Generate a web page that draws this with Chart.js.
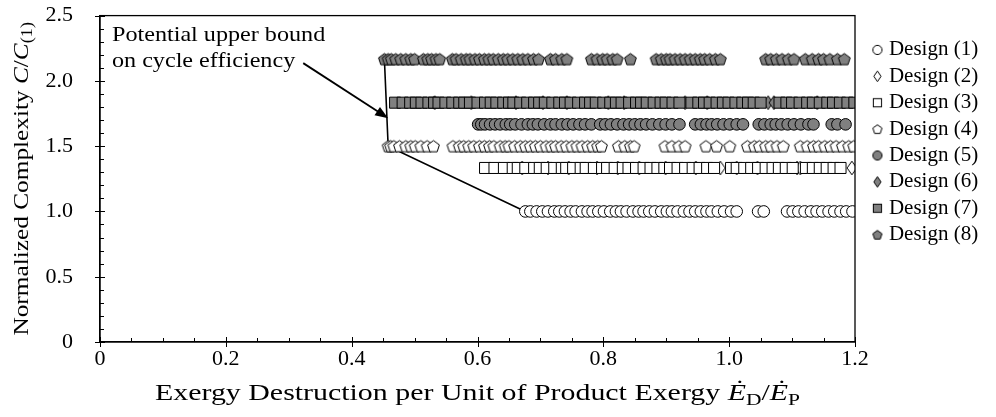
<!DOCTYPE html>
<html><head><meta charset="utf-8">
<script src="https://cdn.jsdelivr.net/npm/chart.js@4.4.1/dist/chart.umd.min.js"></script>
<style>html,body{margin:0;padding:0;background:#fff;overflow:hidden}</style>
</head><body>
<canvas id="c" width="996" height="417"></canvas>
<script>
// ---------------- data ----------------
const designNames = ['Design (1)','Design (2)','Design (3)','Design (4)','Design (5)','Design (6)','Design (7)','Design (8)'];
const complexity = [1.0, 1.333, 1.333, 1.5, 1.667, 1.833, 1.833, 2.167];

const design1X = [0.676,0.684,0.694,0.703,0.712,0.722,0.730,0.739,0.748,0.756,0.766,0.775,0.783,0.792,0.801,0.811,0.820,0.828,0.837,0.847,0.856,0.864,0.873,0.882,0.892,0.901,0.909,0.918,0.928,0.937,0.946,0.955,0.964,0.972,0.982,0.992,1.003,1.012,1.046,1.055,1.092,1.101,1.110,1.120,1.130,1.139,1.148,1.158,1.167,1.177,1.186,1.196];
const design2X = [0.671,0.712,0.745,0.790,0.823,0.857,0.899,0.947,0.986,1.012,1.045,1.108,1.113,1.195];
const design3X = [0.612,0.627,0.642,0.656,0.664,0.676,0.690,0.699,0.710,0.722,0.734,0.741,0.752,0.764,0.772,0.785,0.798,0.806,0.818,0.831,0.840,0.852,0.864,0.875,0.886,0.897,0.906,0.918,0.930,0.942,0.953,0.965,0.976,1.003,1.012,1.024,1.035,1.046,1.058,1.069,1.079,1.090,1.101,1.122,1.133,1.144,1.155,1.166,1.177];
const design4X = [0.458,0.462,0.467,0.476,0.486,0.494,0.501,0.510,0.520,0.530,0.561,0.571,0.578,0.586,0.594,0.603,0.611,0.619,0.626,0.636,0.644,0.650,0.659,0.668,0.676,0.684,0.692,0.700,0.709,0.717,0.724,0.733,0.741,0.750,0.758,0.766,0.775,0.783,0.791,0.797,0.824,0.834,0.843,0.849,0.898,0.909,0.920,0.930,0.963,0.980,1.001,1.029,1.040,1.048,1.058,1.066,1.076,1.086,1.113,1.124,1.134,1.142,1.152,1.161,1.170,1.180,1.190,1.198];
const design5X = [0.601,0.606,0.612,0.620,0.628,0.636,0.645,0.652,0.660,0.670,0.680,0.688,0.696,0.706,0.716,0.724,0.734,0.743,0.752,0.762,0.771,0.781,0.795,0.803,0.812,0.822,0.832,0.841,0.850,0.859,0.868,0.878,0.889,0.899,0.909,0.921,0.946,0.955,0.964,0.972,0.981,0.991,1.001,1.012,1.022,1.047,1.056,1.066,1.074,1.083,1.093,1.103,1.114,1.126,1.134,1.163,1.172,1.185];
const design6X = [0.532,0.590,0.661,0.704,0.742,0.808,0.833,0.930,0.965,1.062,1.071,1.140];
const design7X = [0.469,0.481,0.493,0.502,0.511,0.522,0.531,0.538,0.549,0.560,0.571,0.579,0.588,0.600,0.612,0.621,0.630,0.641,0.650,0.657,0.668,0.679,0.690,0.698,0.707,0.719,0.730,0.739,0.748,0.760,0.771,0.779,0.788,0.800,0.811,0.820,0.829,0.841,0.852,0.860,0.869,0.880,0.891,0.899,0.910,0.921,0.940,0.951,0.960,0.969,0.980,0.990,0.999,1.010,1.021,1.030,1.039,1.050,1.080,1.091,1.100,1.112,1.124,1.133,1.144,1.156,1.165,1.176,1.188,1.199];
const design8X = [0.452,0.458,0.463,0.470,0.478,0.486,0.494,0.500,0.514,0.521,0.527,0.534,0.540,0.560,0.566,0.574,0.582,0.588,0.596,0.603,0.611,0.618,0.625,0.633,0.641,0.648,0.656,0.664,0.672,0.680,0.689,0.697,0.716,0.724,0.734,0.742,0.781,0.790,0.799,0.806,0.815,0.822,0.843,0.884,0.892,0.900,0.906,0.914,0.922,0.930,0.938,0.946,0.954,0.961,0.969,0.978,0.986,1.058,1.066,1.075,1.084,1.094,1.103,1.121,1.132,1.142,1.150,1.160,1.172,1.183];
const designX = [design1X,design2X,design3X,design4X,design5X,design6X,design7X,design8X];

// Pareto frontier ("potential upper bound")
const frontierX = [0.452, 0.458, 0.676];
const frontierY = [2.167, 1.5, 1.0];

const annotationLines = ['Potential upper bound', 'on cycle efficiency'];
const annotationAnchor = {x: 0.019, y1: 2.345, y2: 2.146};
const arrowFrom = {x: 0.323, y: 2.136};
const arrowTo = {x: 0.458, y: 1.714};

// ---------------- styles ----------------
const FONT = '"Liberation Serif", "Times New Roman", serif';
const GREY = '#808080';

function mk(size){ const c=document.createElement('canvas'); c.width=size; c.height=size; return c; }
function pentagon(R, fill){
  const s = Math.ceil(2*R+4), c = mk(s), g = c.getContext('2d');
  const cx = s/2, cy = s/2 + 0.0955*R;
  g.beginPath();
  for(let k=0;k<5;k++){ const a = -Math.PI/2 + k*2*Math.PI/5; const px=cx+R*Math.cos(a), py=cy+R*Math.sin(a); k?g.lineTo(px,py):g.moveTo(px,py); }
  g.closePath(); g.fillStyle=fill; g.fill(); g.lineWidth=1; g.strokeStyle='#000'; g.stroke(); return c;
}
function diamond(hw, hh, fill){
  const s = Math.ceil(2*Math.max(hw,hh)+4), c = mk(s), g = c.getContext('2d');
  const cx=s/2, cy=s/2;
  g.beginPath(); g.moveTo(cx,cy-hh); g.lineTo(cx+hw,cy); g.lineTo(cx,cy+hh); g.lineTo(cx-hw,cy); g.closePath();
  g.fillStyle=fill; g.fill(); g.lineWidth=1; g.strokeStyle='#000'; g.stroke(); return c;
}
function circleImg(r, fill){
  const s = Math.ceil(2*r+4), c = mk(s), g = c.getContext('2d');
  g.beginPath(); g.arc(s/2,s/2,r,0,2*Math.PI); g.fillStyle=fill; g.fill(); g.lineWidth=1; g.strokeStyle='#000'; g.stroke(); return c;
}
function squareImg(h, fill){
  const s = Math.ceil(2*h+4), c = mk(s), g = c.getContext('2d');
  const o = s/2-h;
  g.fillStyle=fill; g.fillRect(o,o,2*h,2*h); g.lineWidth=1; g.strokeStyle='#000'; g.strokeRect(o,o,2*h,2*h); return c;
}

const fills = ['#fff','#fff','#fff','#fff',GREY,GREY,GREY,GREY];
const pointStyles = [
  'circle', diamond(4.8,6.8,'#fff'), 'rect', pentagon(6.2,'#fff'),
  'circle', diamond(4.8,6.8,GREY), 'rect', pentagon(6.2,GREY)
];
const pointRadii = [5.8, 6, 7.8, 6, 5.8, 6, 7.8, 6];
const drawOrder = [0, 1, 0, 0, 0, 1, 0, 0];
const legendStyles = [
  circleImg(4.6,'#fff'), diamond(3.6,5.3,'#fff'), squareImg(4.1,'#fff'), pentagon(4.8,'#fff'),
  circleImg(4.6,GREY), diamond(3.6,5.3,GREY), squareImg(4.1,GREY), pentagon(4.8,GREY)
];

const datasets = designNames.map((name,i)=>({
  label: name,
  data: designX[i].map(x=>({x, y: complexity[i]})),
  pointStyle: pointStyles[i],
  pointRadius: pointRadii[i],
  pointHoverRadius: pointRadii[i],
  backgroundColor: fills[i],
  borderColor: '#000',
  pointBorderWidth: 1,
  showLine: false,
  order: drawOrder[i]
}));
datasets.push({
  label: 'frontier',
  data: frontierX.map((x,i)=>({x, y: frontierY[i]})),
  showLine: true, pointRadius: 0, borderColor: '#000', borderWidth: 1.6, order: 5
});

// ---------------- decorations ----------------
function drawRich(ctx, segs, size){
  let total = 0;
  const items = segs.map(s=>{
    const fs = s.sub ? size*0.72 : size;
    const font = (s.it?'italic ':'') + fs + 'px ' + FONT;
    ctx.font = font; const w = ctx.measureText(s.t).width; total += w;
    return {t:s.t, font, w, dy: s.sub ? size*0.28 : 0};
  });
  let x = -total/2;
  ctx.textBaseline='middle'; ctx.textAlign='left'; ctx.fillStyle='#000';
  for(const it of items){ ctx.font = it.font; ctx.fillText(it.t, x, it.dy); x += it.w; }
}
function line(ctx,x1,y1,x2,y2){ ctx.beginPath(); ctx.moveTo(x1,y1); ctx.lineTo(x2,y2); ctx.stroke(); }

const LEGEND_W = 141, LEGEND_SHIFT = 16;
const decor = {
  id:'decor',
  afterInit(chart){
    const lg = chart.legend; const f = lg.fit;
    lg.fit = function(){ f.apply(this, arguments); this.width = LEGEND_W; };
  },
  afterLayout(chart){ const lg = chart.legend; lg.left += LEGEND_SHIFT; lg.right += LEGEND_SHIFT; },
  afterDraw(chart){
    const ctx = chart.ctx, a = chart.chartArea, xs = chart.scales.x, ys = chart.scales.y;
    ctx.save();
    ctx.strokeStyle='#000'; ctx.lineWidth=1.3;
    ctx.strokeRect(a.left, a.top, a.right-a.left, a.bottom-a.top);
    ctx.lineWidth=1;
    for(const t of xs.ticks){
      const p = Math.round(xs.getPixelForValue(t.value))+0.5;
      if(t.label) line(ctx,p,a.bottom-5,p,a.bottom+5); else line(ctx,p,a.bottom,p,a.bottom-4);
    }
    for(const t of ys.ticks){
      const p = Math.round(ys.getPixelForValue(t.value))+0.5;
      if(t.label) line(ctx,a.left-5,p,a.left+5,p); else line(ctx,a.left,p,a.left+4,p);
    }
    // axis titles
    ctx.save(); ctx.translate((a.left+a.right)/2, a.bottom+52); ctx.scale(1.3,1);
    drawRich(ctx,[{t:'Exergy Destruction per Unit of Product Exergy '},{t:'\u0116',it:true},{t:'D',sub:true},{t:'/'},{t:'\u0116',it:true},{t:'P',sub:true}],23);
    ctx.restore();
    ctx.save(); ctx.translate(22,(a.top+a.bottom)/2); ctx.rotate(-Math.PI/2); ctx.scale(1.15,1);
    drawRich(ctx,[{t:'Normalized Complexity '},{t:'C',it:true},{t:'/'},{t:'C',it:true},{t:'(1)',sub:true}],22);
    ctx.restore();
    // annotation
    ctx.save(); ctx.fillStyle='#000'; ctx.textBaseline='middle'; ctx.textAlign='left'; ctx.font='21px '+FONT;
    const ax = xs.getPixelForValue(annotationAnchor.x);
    [[annotationLines[0],annotationAnchor.y1],[annotationLines[1],annotationAnchor.y2]].forEach(([t,y])=>{
      ctx.save(); ctx.translate(ax, ys.getPixelForValue(y)); ctx.scale(1.15,1); ctx.fillText(t,0,0); ctx.restore();
    });
    ctx.restore();
    // arrow
    const x1=xs.getPixelForValue(arrowFrom.x), y1=ys.getPixelForValue(arrowFrom.y);
    const x2=xs.getPixelForValue(arrowTo.x), y2=ys.getPixelForValue(arrowTo.y);
    const ang=Math.atan2(y2-y1,x2-x1), L=13, W=5;
    ctx.lineWidth=1.8; line(ctx,x1,y1,x2-L*0.8*Math.cos(ang),y2-L*0.8*Math.sin(ang));
    ctx.beginPath(); ctx.moveTo(x2,y2);
    ctx.lineTo(x2-L*Math.cos(ang)+W*Math.sin(ang), y2-L*Math.sin(ang)-W*Math.cos(ang));
    ctx.lineTo(x2-L*Math.cos(ang)-W*Math.sin(ang), y2-L*Math.sin(ang)+W*Math.cos(ang));
    ctx.closePath(); ctx.fillStyle='#000'; ctx.fill();
    ctx.restore();
  }
};

function fmtX(v){ const k=Math.round(v*100); if(k%20!==0) return ''; return k===0?'0':(k/100).toFixed(1); }
function fmtY(v){ const k=Math.round(v*10); if(k%5!==0) return ''; return k===0?'0':(k/10).toFixed(1); }

new Chart(document.getElementById('c'), {
  type:'scatter',
  data:{datasets},
  options:{
    responsive:false, animation:false, devicePixelRatio:1,
    layout:{padding:{top:0,left:0,right:0,bottom:0}},
    scales:{
      x:{type:'linear', min:0, max:1.2,
         ticks:{stepSize:0.05, autoSkip:false, maxRotation:0, padding:-4, color:'#000', font:{family:FONT,size:22}, callback:fmtX},
         grid:{display:false}, border:{display:true,color:'#000',width:1.3},
         afterFit:s=>{s.height=75;}},
      y:{type:'linear', min:0, max:2.5,
         ticks:{stepSize:0.1, autoSkip:false, padding:19, color:'#000', font:{family:FONT,size:22}, callback:fmtY},
         grid:{display:false}, border:{display:true,color:'#000',width:1.3},
         afterFit:s=>{s.width=100; s.paddingTop=15.6; s.paddingBottom=15;}}
    },
    plugins:{
      tooltip:{enabled:false},
      legend:{
        position:'right', align:'start',
        title:{display:true, text:' ', font:{size:10}, padding:{top:0,bottom:22}},
        labels:{
          usePointStyle:true, boxWidth:2, boxHeight:2, padding:5.4, color:'#000',
          font:{family:FONT,size:21},
          generateLabels(chart){
            const base = Chart.defaults.plugins.legend.labels.generateLabels(chart);
            return base.filter(l=>l.datasetIndex<8).map(l=>Object.assign(l,{pointStyle:legendStyles[l.datasetIndex], fontColor:'#000'}));
          },
          sort:(a,b)=>a.datasetIndex-b.datasetIndex
        }
      }
    }
  },
  plugins:[decor]
});
</script>
</body></html>
